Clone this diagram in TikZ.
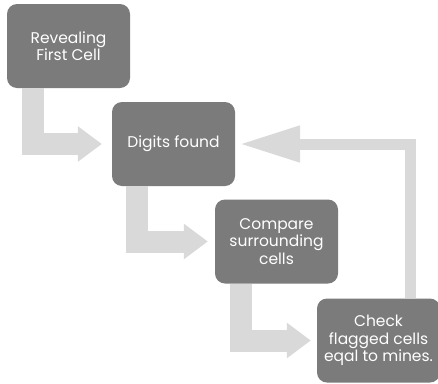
\documentclass[tikz,border=0pt]{standalone}
\usepackage{fontspec}
\setmainfont{Poppins}
\usetikzlibrary{arrows.meta, calc}
\definecolor{boxgray}{HTML}{7B7B7B}
\definecolor{arrowgray}{HTML}{D9D9D9}

\begin{document}
\begin{tikzpicture}[x=1pt, y=-1pt]
            \tikzset{stage/.style = {shape=rectangle, rounded corners=10pt, fill=boxgray,
                text=white, minimum width=123pt, minimum height=84pt, align=center,
                inner sep=2pt, font=\fontsize{15.5}{17.5}\selectfont}}
            \tikzset{edge/.style = {draw=arrowgray, line width=22pt, line join=miter,
                -{Triangle[length=24pt, width=34pt]}}}
            \tikzset{back/.style = {draw=arrowgray, line width=11pt, line join=miter,
                -{Triangle[length=61pt, width=34pt]}}}
            \useasboundingbox (0, 0) rectangle (438, 383);
            \node[stage] (rev) at (68.5, 46) {Revealing\\First Cell};
            \node[stage] (dig) at (173.5, 144) {Digits found};
            \node[stage] (cmp) at (276.5, 241.5) {Compare\\surrounding\\cells};
            \node[stage] (chk) at (378.5, 340.5) {Check\\flagged cells\\eqal to mines.};
            \draw[edge] ($(rev.south west)+(26.5, 0)$) |- ($(dig.west)+(-10, 0)$);
            \draw[edge] ($(dig.south west)+(25, 0)$) |- ($(cmp.west)+(-7, 0)$);
            \draw[edge] ($(cmp.south west)+(26, 0)$) |- ($(chk.west)+(-6, 0)$);
            \draw[back] ($(chk.north)+(32, 0)$) |- ($(dig.east)+(4, 0)$);
          \end{tikzpicture}
\end{document}
